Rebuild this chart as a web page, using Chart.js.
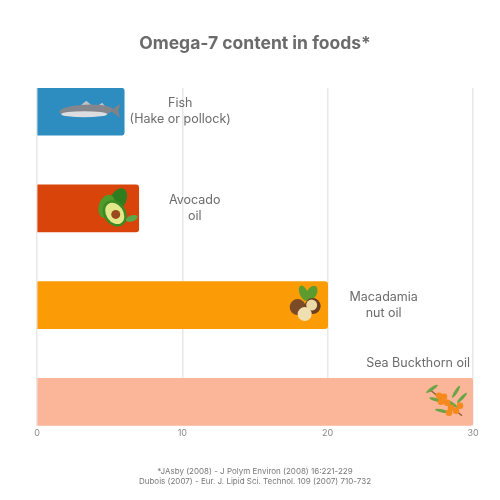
<!DOCTYPE html>
<html>
<head>
<meta charset="utf-8">
<script src="https://cdn.jsdelivr.net/npm/chart.js@4.4.1/dist/chart.umd.min.js"></script>
<style>
  html, body { margin: 0; padding: 0; background: #fff; }
  #wrap { width: 500px; height: 500px; }
</style>
</head>
<body>
<div id="wrap"><canvas id="omegaChart"></canvas></div>
<script>
// Data
const foods = [['Fish', '(Hake or pollock)'], ['Avocado', 'oil'], ['Macadamia', 'nut oil'], ['Sea Buckthorn oil']];
const positions = [0, 1, 2, 3];
const omega7 = [6, 7, 20, 30];
const barColors = ['#2d8cc0', '#d8440a', '#fb9c07', '#fbb598'];
const icons = ['fish', 'avocado', 'nuts', 'berries'];
const xTicks = [0, 10, 20, 30];
const sources = ['*JAsby (2008) - J Polym Environ (2008) 16:221-229',
  'Dubois (2007) - Eur. J. Lipid Sci. Technol. 109 (2007) 710-732'];

const FONT = 'Inter, "Open Sans", sans-serif';
const TEXT = '#6b6b6b';

// little drawings standing in for the food pictures
function drawIcon(ctx, kind, right, cy) {
  ctx.save();
  if (kind === 'fish') {
    const x = right - 38;
    ctx.fillStyle = '#bfc1c4';
    ctx.beginPath();
    ctx.moveTo(x - 6, cy - 6);
    ctx.lineTo(x, cy - 11);
    ctx.lineTo(x + 6, cy - 6);
    ctx.moveTo(x + 10, cy - 5);
    ctx.lineTo(x + 16, cy - 9);
    ctx.lineTo(x + 20, cy - 4);
    ctx.fill();
    ctx.fillStyle = '#83868c';
    ctx.beginPath();
    ctx.ellipse(x, cy - 1, 27, 6, -0.04, 0, Math.PI * 2);
    ctx.fill();
    ctx.fillStyle = '#dcdde0';
    ctx.beginPath();
    ctx.ellipse(x - 2, cy + 2.5, 23, 3, 0, 0, Math.PI * 2);
    ctx.fill();
    ctx.fillStyle = '#7f8287';
    ctx.beginPath();
    ctx.moveTo(x + 24, cy - 1);
    ctx.lineTo(x + 34, cy - 8);
    ctx.lineTo(x + 32, cy);
    ctx.lineTo(x + 34, cy + 6);
    ctx.closePath();
    ctx.fill();
  } else if (kind === 'avocado') {
    const x = right - 24;
    ctx.fillStyle = '#2f7d1e';
    ctx.beginPath();
    ctx.ellipse(x + 3, cy - 8, 8, 13, 0.5, 0, Math.PI * 2);
    ctx.fill();
    ctx.fillStyle = '#4f9a2a';
    ctx.beginPath();
    ctx.ellipse(x - 8, cy - 2, 8, 12, 0.3, 0, Math.PI * 2);
    ctx.fill();
    ctx.fillStyle = '#3b8a24';
    ctx.beginPath();
    ctx.ellipse(x, cy + 5, 11, 14, -0.6, 0, Math.PI * 2);
    ctx.fill();
    ctx.fillStyle = '#e3e88a';
    ctx.beginPath();
    ctx.ellipse(x, cy + 5, 8.5, 11.5, -0.6, 0, Math.PI * 2);
    ctx.fill();
    ctx.fillStyle = '#9a4a1d';
    ctx.beginPath();
    ctx.arc(x + 1, cy + 6, 4.5, 0, Math.PI * 2);
    ctx.fill();
    ctx.fillStyle = '#5aa84a';
    ctx.beginPath();
    ctx.ellipse(x + 17, cy + 10, 6, 3, -0.3, 0, Math.PI * 2);
    ctx.fill();
  } else if (kind === 'nuts') {
    const x = right - 26;
    ctx.fillStyle = '#5c9c2e';
    ctx.beginPath();
    ctx.ellipse(x + 2, cy - 12, 4, 8, -0.4, 0, Math.PI * 2);
    ctx.ellipse(x + 10, cy - 12, 5, 8, 0.5, 0, Math.PI * 2);
    ctx.fill();
    ctx.fillStyle = '#7b4a26';
    ctx.beginPath();
    ctx.arc(x - 4, cy + 2, 8, 0, Math.PI * 2);
    ctx.fill();
    ctx.fillStyle = '#6b3e1f';
    ctx.beginPath();
    ctx.arc(x + 11, cy + 1, 8, 0, Math.PI * 2);
    ctx.fill();
    ctx.fillStyle = '#ecd9a8';
    ctx.beginPath();
    ctx.arc(x + 10, cy, 5.5, 0, Math.PI * 2);
    ctx.fill();
    ctx.fillStyle = '#f0dfb0';
    ctx.beginPath();
    ctx.arc(x + 3, cy + 9, 7, 0, Math.PI * 2);
    ctx.fill();
  } else if (kind === 'berries') {
    const x = right - 27;
    ctx.strokeStyle = '#8a5a2a';
    ctx.lineWidth = 1.2;
    ctx.beginPath();
    ctx.moveTo(x - 16, cy - 12);
    ctx.lineTo(x + 16, cy + 14);
    ctx.stroke();
    ctx.fillStyle = '#6aa446';
    [[-14, -13, -0.6], [-10, -2, 0.3], [10, -10, -1.0], [16, -4, -0.8], [-4, 9, 0.2], [6, 2, 0.6]].forEach(([dx, dy, a]) => {
      ctx.beginPath();
      ctx.ellipse(x + dx, cy + dy, 7, 1.6, a, 0, Math.PI * 2);
      ctx.fill();
    });
    ctx.fillStyle = '#f5891c';
    [[-7, -6], [-2, -5], [-5, 0], [1, 1], [5, 6], [10, 9], [14, 4], [3, 11]].forEach(([dx, dy]) => {
      ctx.beginPath();
      ctx.arc(x + dx, cy + dy, 3.3, 0, Math.PI * 2);
      ctx.fill();
    });
  }
  ctx.restore();
}

// food names and pictures next to / on the bars
const foodLabels = {
  id: 'foodLabels',
  afterDatasetsDraw(chart) {
    const { ctx, chartArea } = chart;
    const meta = chart.getDatasetMeta(0);
    ctx.save();
    ctx.font = '12.5px ' + FONT;
    ctx.fillStyle = TEXT;
    ctx.textBaseline = 'middle';
    meta.data.forEach((bar, i) => {
      const lines = foods[i];
      const end = bar.x;
      drawIcon(ctx, icons[i], end, bar.y);
      if (end + 120 < chartArea.right) {
        ctx.textAlign = 'center';
        const cx = end + 56;
        lines.forEach((t, j) => {
          ctx.fillText(t, cx, bar.y - 8 + j * 16);
        });
      } else {
        ctx.textAlign = 'right';
        ctx.fillText(lines[0], end - 3, bar.y - 39);
      }
    });
    ctx.restore();
  }
};

new Chart(document.getElementById('omegaChart'), {
  type: 'bar',
  data: {
    datasets: [{
      data: positions.map((p, i) => ({ x: omega7[i], y: p })),
      backgroundColor: barColors,
      borderRadius: 3,
      borderSkipped: 'start',
      barThickness: 47
    }]
  },
  plugins: [foodLabels],
  options: {
    indexAxis: 'y',
    responsive: true,
    maintainAspectRatio: false,
    animation: false,
    layout: { padding: { left: 37, right: 27, top: 0, bottom: 14 } },
    plugins: {
      legend: { display: false },
      tooltip: { enabled: false },
      title: {
        display: true,
        text: 'Omega-7 content in foods*',
        color: TEXT,
        font: { family: FONT, size: 17.5, weight: 'bold' },
        padding: { top: 33, bottom: 34 }
      },
      subtitle: {
        display: true,
        position: 'bottom',
        text: sources,
        color: '#777',
        font: { family: FONT, size: 8 },
        padding: { top: 26, bottom: 0 }
      }
    },
    scales: {
      x: {
        type: 'linear',
        min: 0,
        max: 30,
        afterBuildTicks: (scale) => { scale.ticks = xTicks.map(v => ({ value: v })); },
        grid: { color: '#e8e8e8', lineWidth: 1.5, drawTicks: false },
        border: { display: false },
        ticks: { color: '#888', font: { family: FONT, size: 9 }, padding: 2 }
      },
      y: {
        type: 'linear',
        reverse: true,
        offset: false,
        min: -0.245,
        max: 3.25,
        display: false
      }
    }
  }
});
</script>
</body>
</html>
